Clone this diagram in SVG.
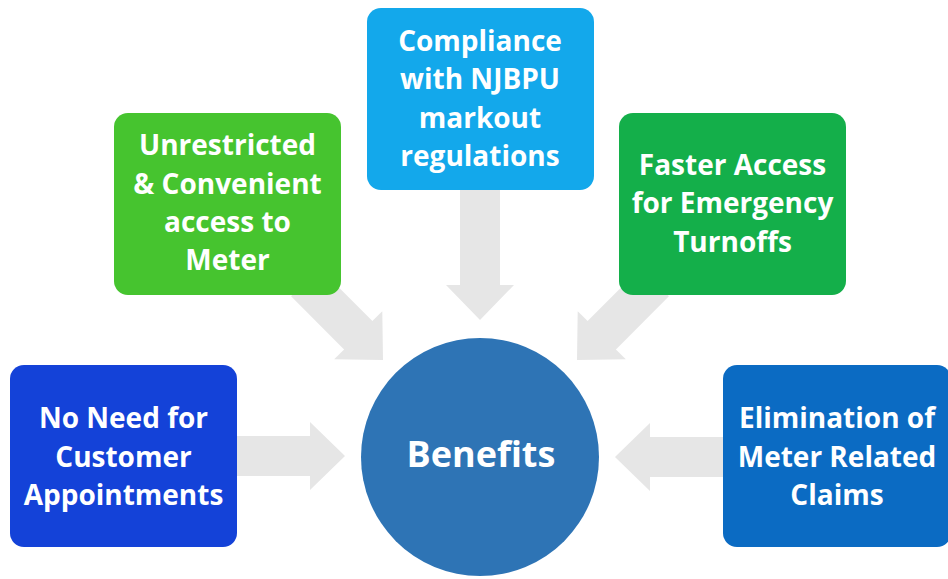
<svg xmlns="http://www.w3.org/2000/svg" width="948" height="579" viewBox="0 0 948 579">
  <defs>
    <style>
      .box { stroke: none; }
      .lbl { font-family: "Open Sans", "Liberation Sans", sans-serif; font-weight: 700; font-size: 28px; fill: #ffffff; text-anchor: middle; }
      .hub { font-family: "Open Sans", "Liberation Sans", sans-serif; font-weight: 700; font-size: 36px; fill: #ffffff; text-anchor: middle; }
      .arrow { fill: #e6e6e6; }
    </style>
    <!-- block arrow pointing along +x with its tip at the origin -->
    <polygon id="arrow110" points="0,0 -35,-34 -35,-20 -110,-20 -110,20 -35,20 -35,34"/>
    <polygon id="arrow132" points="0,0 -35,-34 -35,-20 -132,-20 -132,20 -35,20 -35,34"/>
  </defs>
  <rect width="948" height="579" fill="#ffffff"/>

  <g id="connectors" class="arrow">
    <use href="#arrow132" transform="translate(480,320) rotate(90)"/>
    <use href="#arrow110" transform="translate(383,360) rotate(45)"/>
    <use href="#arrow110" transform="translate(577,360) rotate(135)"/>
    <use href="#arrow110" transform="translate(345,456)"/>
    <use href="#arrow110" transform="translate(615,457) rotate(180)"/>
  </g>

  <g id="node-compliance">
    <rect class="box" x="367" y="8" width="227" height="182" rx="14" fill="#13a8eb"/>
    <text class="lbl" x="480" y="51">Compliance</text>
    <text class="lbl" x="480" y="89">with NJBPU</text>
    <text class="lbl" x="480" y="128">markout</text>
    <text class="lbl" x="480" y="166">regulations</text>
  </g>

  <g id="node-unrestricted">
    <rect class="box" x="114" y="113" width="227" height="182" rx="14" fill="#46c42f"/>
    <text class="lbl" x="227.5" y="155">Unrestricted</text>
    <text class="lbl" x="227.5" y="194">&amp; Convenient</text>
    <text class="lbl" x="227.5" y="232">access to</text>
    <text class="lbl" x="227.5" y="270">Meter</text>
  </g>

  <g id="node-faster">
    <rect class="box" x="619" y="113" width="227" height="182" rx="14" fill="#14af4a"/>
    <text class="lbl" x="732.5" y="175">Faster Access</text>
    <text class="lbl" x="732.5" y="213">for Emergency</text>
    <text class="lbl" x="732.5" y="252">Turnoffs</text>
  </g>

  <g id="node-appointments">
    <rect class="box" x="10" y="365" width="227" height="182" rx="14" fill="#1442d8"/>
    <text class="lbl" x="123.5" y="428">No Need for</text>
    <text class="lbl" x="123.5" y="467">Customer</text>
    <text class="lbl" x="123.5" y="505">Appointments</text>
  </g>

  <g id="node-claims">
    <rect class="box" x="723" y="365" width="228" height="182" rx="14" fill="#0b6bc3"/>
    <text class="lbl" x="837" y="428">Elimination of</text>
    <text class="lbl" x="837" y="467">Meter Related</text>
    <text class="lbl" x="837" y="505">Claims</text>
  </g>

  <g id="node-benefits">
    <circle cx="480" cy="457" r="119" fill="#2e74b5"/>
    <text class="hub" x="481" y="467">Benefits</text>
  </g>
</svg>
